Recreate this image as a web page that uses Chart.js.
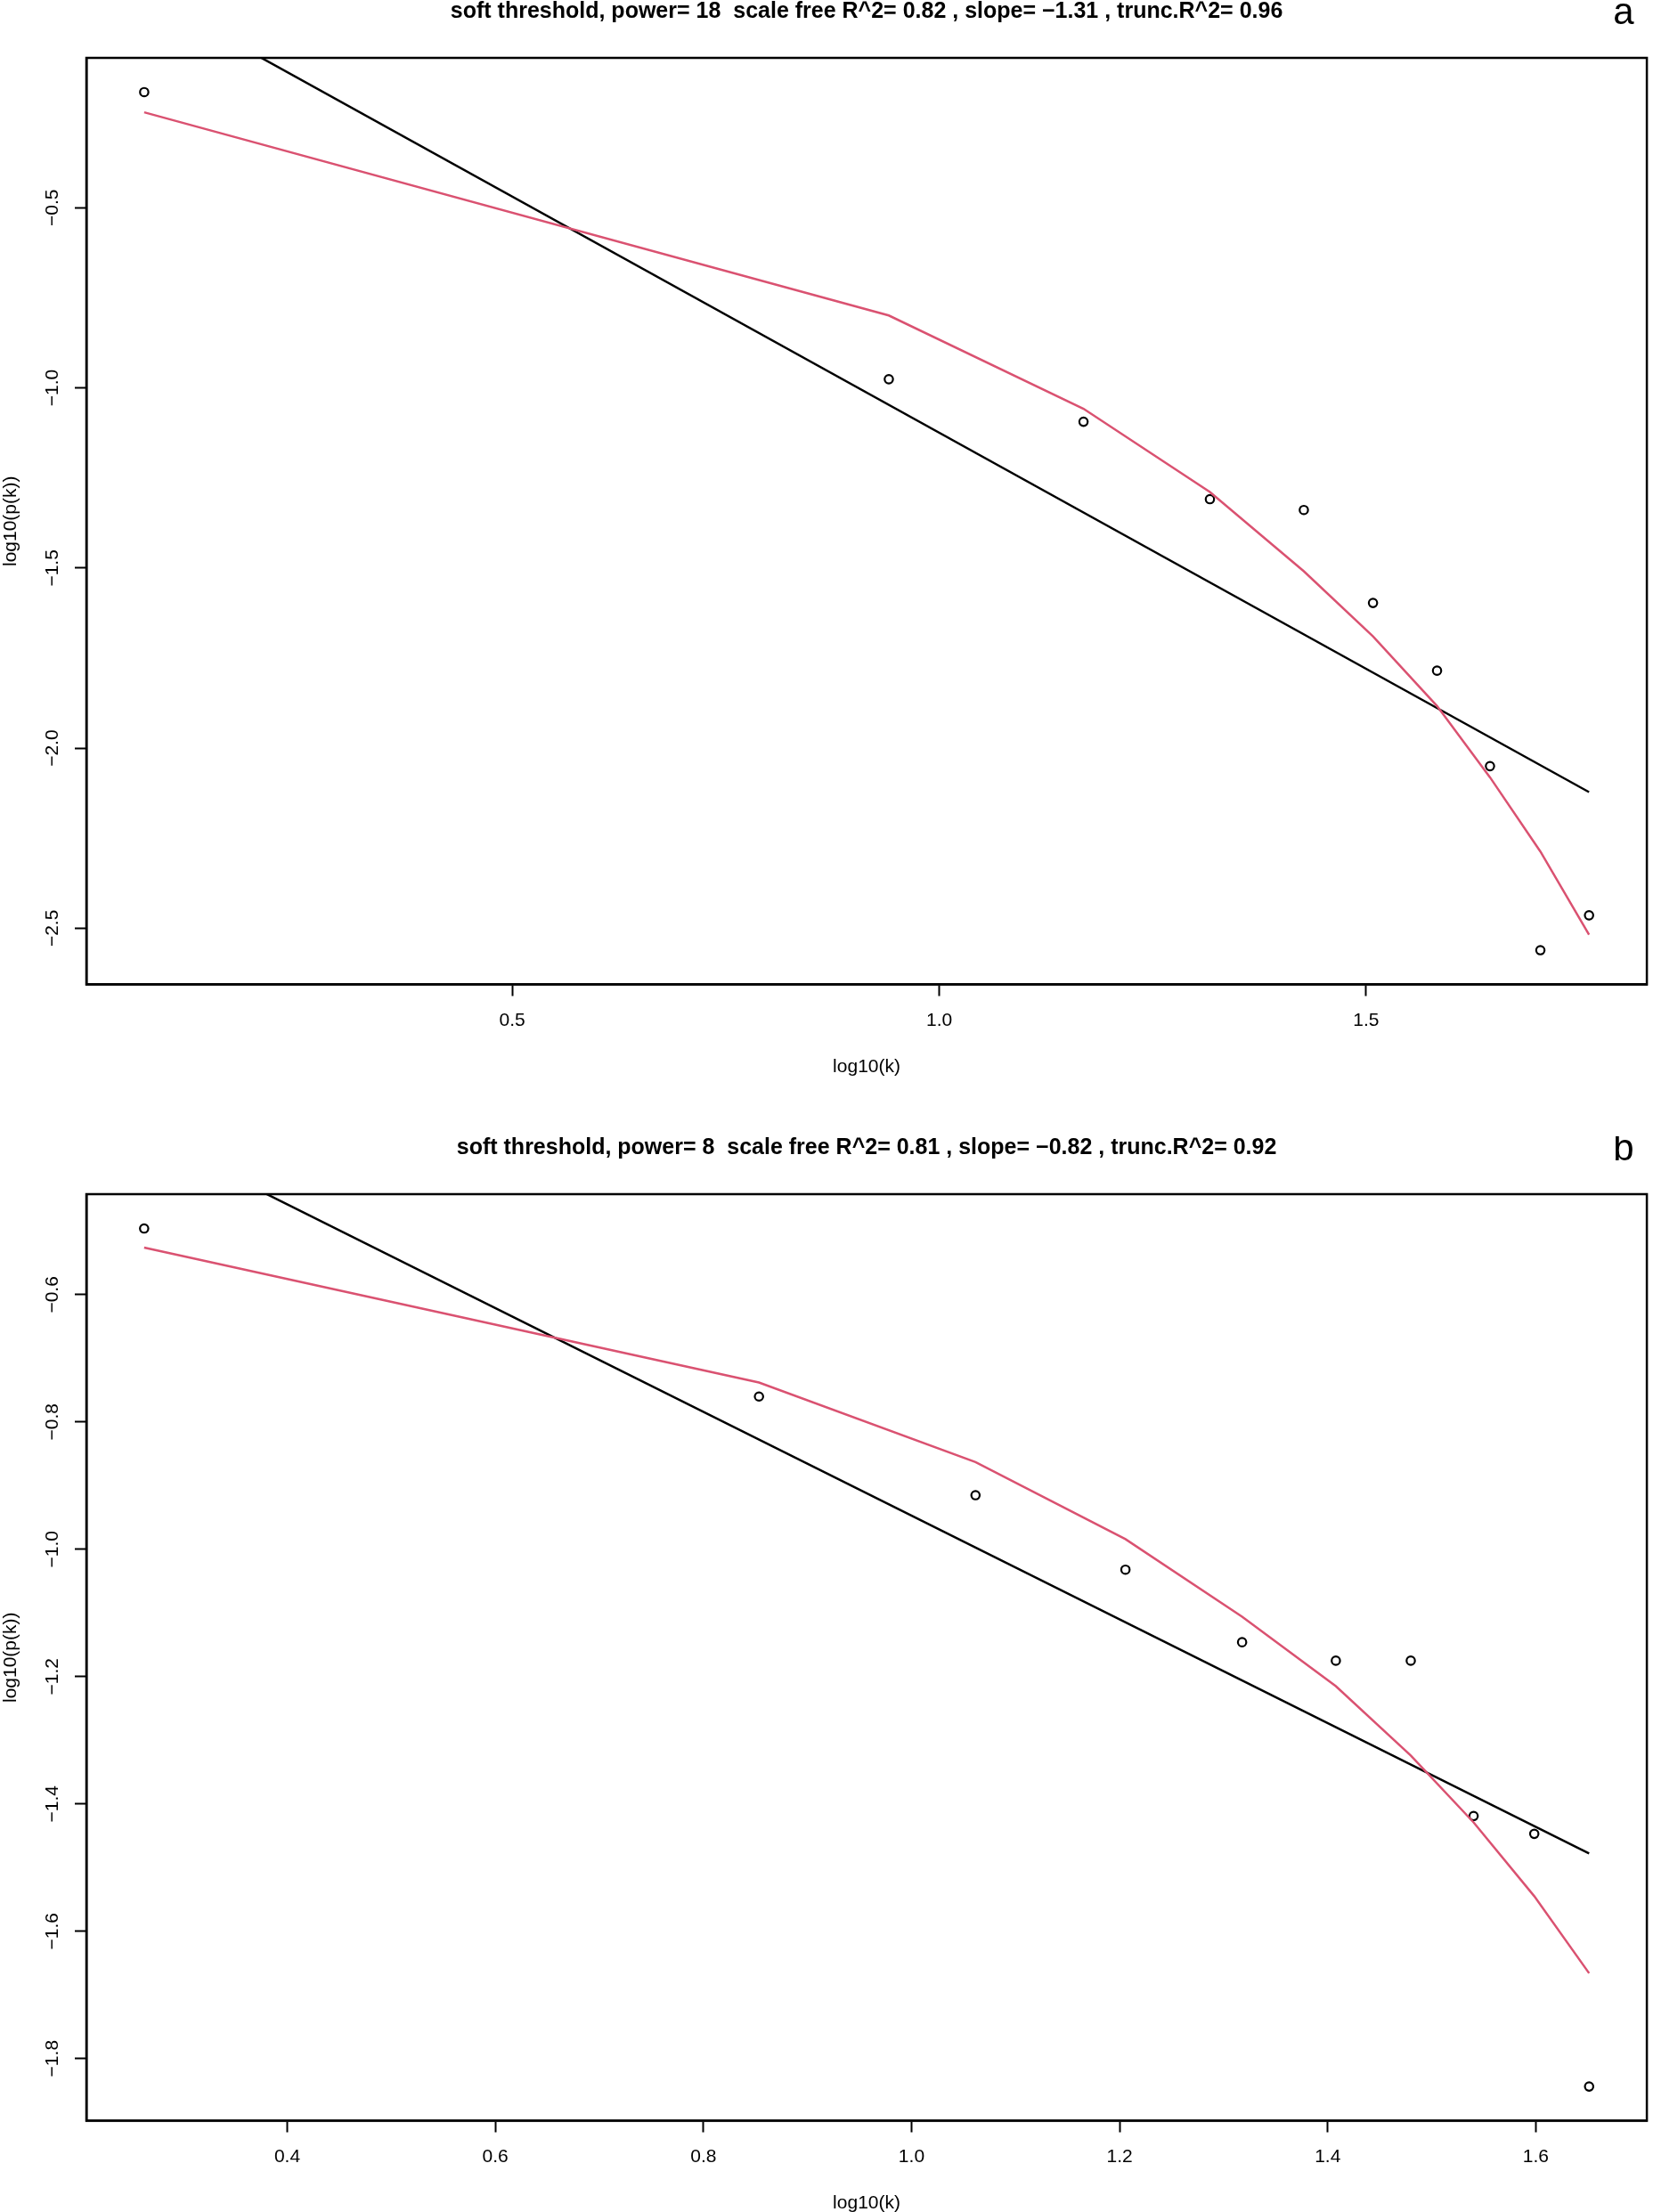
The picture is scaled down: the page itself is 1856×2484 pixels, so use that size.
<!DOCTYPE html>
<html>
<head>
<meta charset="utf-8">
<title>Scale free topology</title>
<script src="https://cdn.jsdelivr.net/npm/chart.js@4.4.1/dist/chart.umd.min.js"></script>
<style>
  html, body { margin: 0; padding: 0; background: #fff; overflow: hidden; }
  #lienzo { position: relative; width: 1856px; height: 2484px; }
  #lienzo canvas { position: absolute; left: 0; }
</style>
</head>
<body>
<div id="lienzo">
  <canvas id="panelA" width="1856" height="1230" style="top:0px"></canvas>
  <canvas id="panelB" width="1856" height="1230" style="top:1276px"></canvas>
</div>
<script>
// Panel a: power 18
const logKA = [0.069, 0.941, 1.169, 1.317, 1.427, 1.508, 1.583, 1.645, 1.704, 1.761];
const logPkA = [-0.179, -0.976, -1.094, -1.309, -1.339, -1.597, -1.785, -2.050, -2.561, -2.464];
const truncFitA = [-0.235, -0.799, -1.058, -1.289, -1.509, -1.690, -1.883, -2.081, -2.287, -2.518];
const linFitXA = [0.069, 1.761];
const linFitYA = [0.096, -2.122];
const xLimA = [0.0013, 1.8287];
const yLimA = [-2.656, -0.084];
const xTicksA = [0.5, 1.0, 1.5];
const yTicksA = [-0.5, -1.0, -1.5, -2.0, -2.5];
const tituloA = 'soft threshold, power= 18  scale free R^2= 0.82 , slope= \u22121.31 , trunc.R^2= 0.96';

// Panel b: power 8
const logKB = [0.2625, 0.8534, 1.0615, 1.2056, 1.3177, 1.4078, 1.4798, 1.5402, 1.5985, 1.6512];
const logPkB = [-0.496, -0.760, -0.915, -1.032, -1.146, -1.175, -1.175, -1.419, -1.447, -1.844];
const truncFitB = [-0.526, -0.738, -0.863, -0.984, -1.106, -1.215, -1.324, -1.429, -1.545, -1.666];
const linFitXB = [0.2625, 1.6512];
const linFitYB = [-0.346, -1.478];
const xLimB = [0.207, 1.7067];
const yLimB = [-1.8977, -0.4421];
const xTicksB = [0.4, 0.6, 0.8, 1.0, 1.2, 1.4, 1.6];
const yTicksB = [-0.6, -0.8, -1.0, -1.2, -1.4, -1.6, -1.8];
const tituloB = 'soft threshold, power= 8  scale free R^2= 0.81 , slope= \u22120.82 , trunc.R^2= 0.92';

const FAMILIA = '"Liberation Sans", Arial, Helvetica, sans-serif';
const fuenteEje = { family: FAMILIA, size: 21 };
const ALTO = 1230;

// caja alrededor del area, titulo y letra del panel (estilo R base)
const marcoR = {
    id: 'marcoR',
    afterDatasetsDraw(chart, args, opts) {
        const { ctx, chartArea: a } = chart;
        ctx.save();
        ctx.strokeStyle = '#000';
        ctx.lineWidth = 2.5;
        ctx.strokeRect(a.left, a.top, a.right - a.left, a.bottom - a.top);
        ctx.fillStyle = '#000';
        ctx.textAlign = 'center';
        ctx.textBaseline = 'middle';
        ctx.font = 'bold 25px ' + FAMILIA;
        ctx.fillText(opts.titulo, (a.left + a.right) / 2, a.top - 52);
        ctx.textBaseline = 'alphabetic';
        ctx.font = '42px ' + FAMILIA;
        ctx.fillText(opts.letra, 1823, 27);
        ctx.restore();
    }
};

function gridR() {
    return { display: true, drawOnChartArea: false, drawTicks: true, tickLength: 13, tickWidth: 2, tickColor: '#000' };
}

function crearPanel(id, p) {
    const puntos = p.logK.map((x, i) => ({ x: x, y: p.logPk[i] }));
    const ajusteTrunc = p.logK.map((x, i) => ({ x: x, y: p.truncFit[i] }));
    const ajusteLineal = p.linX.map((x, i) => ({ x: x, y: p.linY[i] }));

    return new Chart(document.getElementById(id), {
        type: 'scatter',
        data: {
            datasets: [
                { label: 'truncated fit', data: ajusteTrunc, showLine: true, borderColor: '#DA5271', borderWidth: 2.5, pointRadius: 0, order: 0 },
                { label: 'linear fit', data: ajusteLineal, showLine: true, borderColor: '#000000', borderWidth: 2.5, pointRadius: 0, order: 1 },
                { label: 'log10(p(k))', data: puntos, pointStyle: 'circle', pointRadius: 4.7, borderWidth: 2.2,
                  borderColor: '#000000', backgroundColor: 'rgba(0,0,0,0)', order: 2 }
            ]
        },
        plugins: [marcoR],
        options: {
            responsive: false,
            animation: false,
            devicePixelRatio: 1,
            layout: { padding: { top: 65, right: 4, left: 0, bottom: 0 } },
            plugins: {
                legend: { display: false },
                tooltip: { enabled: false },
                marcoR: { titulo: p.titulo, letra: p.letra }
            },
            scales: {
                x: {
                    type: 'linear',
                    min: p.xLim[0],
                    max: p.xLim[1],
                    afterBuildTicks: s => { s.ticks = p.xTicks.map(v => ({ value: v })); },
                    afterFit: s => { s.height = ALTO - 1105.5; },
                    grid: gridR(),
                    border: { display: true, color: '#000', width: 2.5 },
                    ticks: { color: '#000', font: fuenteEje, padding: 15, maxRotation: 0, autoSkip: false,
                             callback: v => v.toFixed(1) },
                    title: { display: true, text: 'log10(k)', color: '#000', font: fuenteEje, padding: { top: 0, bottom: 19.4 } }
                },
                y: {
                    type: 'linear',
                    min: p.yLim[0],
                    max: p.yLim[1],
                    afterBuildTicks: s => { s.ticks = p.yTicks.map(v => ({ value: v })); },
                    afterFit: s => { s.width = 97; },
                    grid: gridR(),
                    border: { display: true, color: '#000', width: 2.5 },
                    ticks: { color: '#000', font: fuenteEje, padding: 4.5, minRotation: 90, maxRotation: 90,
                             crossAlign: 'center', autoSkip: false,
                             callback: v => '\u2212' + Math.abs(v).toFixed(1) },
                    title: { display: true, text: 'log10(p(k))', color: '#000', font: fuenteEje, padding: { top: 0, bottom: 0 } }
                }
            }
        }
    });
}

crearPanel('panelA', {
    logK: logKA, logPk: logPkA, truncFit: truncFitA, linX: linFitXA, linY: linFitYA,
    xLim: xLimA, yLim: yLimA, xTicks: xTicksA, yTicks: yTicksA, titulo: tituloA, letra: 'a'
});
crearPanel('panelB', {
    logK: logKB, logPk: logPkB, truncFit: truncFitB, linX: linFitXB, linY: linFitYB,
    xLim: xLimB, yLim: yLimB, xTicks: xTicksB, yTicks: yTicksB, titulo: tituloB, letra: 'b'
});
</script>
</body>
</html>
